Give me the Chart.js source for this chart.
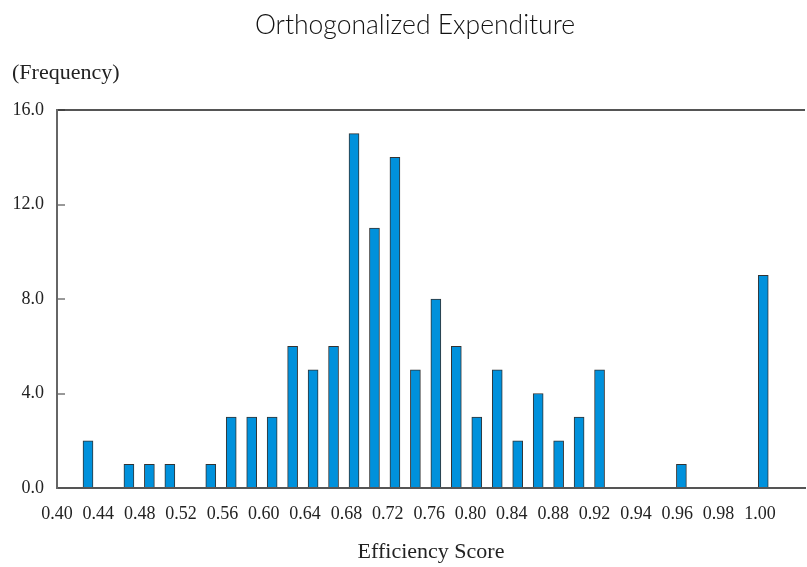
<!DOCTYPE html>
<html>
<head>
<meta charset="utf-8">
<script src="https://cdn.jsdelivr.net/npm/chart.js@4.4.1/dist/chart.umd.min.js"></script>
<style>
  html, body { margin: 0; padding: 0; background: #fff; }
  #wrap { width: 807px; height: 567px; }
</style>
</head>
<body>
<div id="wrap"><canvas id="myChart"></canvas></div>
<script>
// bin position of each bar (consecutive bins, empty ones left out) and its frequency
const binIndex = [0, 2, 3, 4, 6, 7, 8, 9, 10, 11, 12, 13, 14, 15, 16, 17, 18, 19, 20, 21, 22, 23, 24, 25, 29, 33];
const counts = [2, 1, 1, 1, 1, 3, 3, 3, 6, 5, 6, 15, 11, 14, 5, 8, 6, 3, 5, 2, 4, 2, 3, 5, 1, 9];
const tickLabels = ['0.40', '0.44', '0.48', '0.52', '0.56', '0.60', '0.64', '0.68', '0.72', '0.76',
    '0.80', '0.84', '0.88', '0.92', '0.94', '0.96', '0.98', '1.00'];
const yTicks = [0, 4, 8, 12, 16];

const serif = "'Liberation Serif', 'Times New Roman', serif";

// title and the horizontal y-axis caption sit outside the usual title box
const headings = {
    id: 'headings',
    afterDraw(chart) {
        const c = chart.ctx;
        c.save();
        c.textBaseline = 'middle';
        c.fillStyle = '#111';
        c.font = "300 26.5px Lato, 'Open Sans', sans-serif";
        c.textAlign = 'center';
        c.fillText('Orthogonalized Expenditure', 415, 25);
        c.fillStyle = '#222';
        c.font = "22px " + serif;
        c.textAlign = 'left';
        c.fillText('(Frequency)', 12, 73);
        c.restore();
    }
};

function loadChart() {
    const ctx = document.getElementById('myChart');

    new Chart(ctx, {
        type: 'bar',
        data: {
            datasets: [{
                data: binIndex.map((b, i) => ({ x: b, y: counts[i] })),
                xAxisID: 'x',
                yAxisID: 'y',
                barThickness: 10,
                backgroundColor: '#0091dc',
                borderColor: '#333333',
                borderWidth: 1,
                borderSkipped: 'start'
            }]
        },
        options: {
            responsive: true,
            maintainAspectRatio: false,
            animation: false,
            layout: { padding: { left: 0, right: 2, top: 110, bottom: 0 } },
            plugins: {
                legend: { display: false },
                tooltip: { enabled: false },
                title: { display: false }
            },
            scales: {
                x: {
                    type: 'linear',
                    display: false,
                    offset: false,
                    min: -1.515,
                    max: 35.04
                },
                xl: {
                    type: 'linear',
                    position: 'bottom',
                    offset: false,
                    min: 0,
                    max: 18.09,
                    afterBuildTicks: (scale) => {
                        scale.ticks = tickLabels.map((_, i) => ({ value: i }));
                    },
                    afterFit: (scale) => { scale.height = 79; },
                    ticks: {
                        autoSkip: false,
                        maxRotation: 0,
                        padding: 15,
                        color: '#222',
                        font: { size: 18, family: serif },
                        callback: (v) => tickLabels[v]
                    },
                    grid: { display: false, drawTicks: false },
                    border: { display: true, color: '#555', width: 2 },
                    title: {
                        display: true,
                        text: 'Efficiency Score',
                        color: '#222',
                        font: { size: 22, family: serif },
                        padding: 2
                    }
                },
                y: {
                    min: 0,
                    max: 16,
                    afterBuildTicks: (scale) => {
                        scale.ticks = yTicks.map(v => ({ value: v }));
                    },
                    afterFit: (scale) => { scale.width = 57; },
                    ticks: {
                        padding: 21,
                        color: '#222',
                        font: { size: 18, family: serif },
                        callback: (v) => v.toFixed(1)
                    },
                    grid: {
                        color: (c) => (c.tick && c.tick.value === 16 ? '#555' : 'rgba(0,0,0,0)'),
                        lineWidth: 2,
                        tickLength: -8,
                        tickColor: '#333',
                        tickWidth: 1
                    },
                    border: { display: true, color: '#666', width: 2 }
                }
            }
        },
        plugins: [headings]
    });
}

loadChart();
</script>
</body>
</html>
